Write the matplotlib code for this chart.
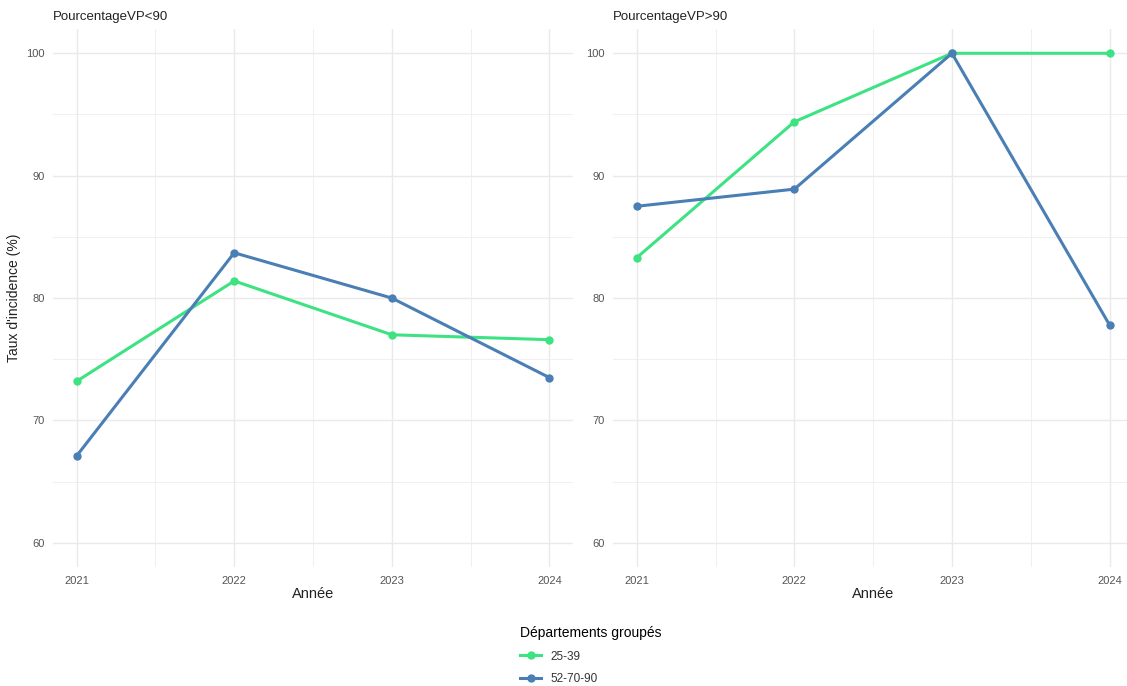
import matplotlib
matplotlib.use("Agg")
import matplotlib.pyplot as plt
from matplotlib.lines import Line2D

plt.rcParams['font.family'] = ['Liberation Sans', 'DejaVu Sans']

# données
annees = [2021, 2022, 2023, 2024]
groupes = ['25-39', '52-70-90']
panneaux = ['PourcentageVP<90', 'PourcentageVP>90']

taux_inf90_25_39 = [73.2, 81.4, 77.0, 76.6]
taux_inf90_52_70_90 = [67.1, 83.7, 80.0, 73.5]
taux_sup90_25_39 = [83.3, 94.4, 100.0, 100.0]
taux_sup90_52_70_90 = [87.5, 88.9, 100.0, 77.8]

couleurs = {'25-39': '#3DE283', '52-70-90': '#4A7FB5'}

series = {
    'PourcentageVP<90': {'25-39': taux_inf90_25_39, '52-70-90': taux_inf90_52_70_90},
    'PourcentageVP>90': {'25-39': taux_sup90_25_39, '52-70-90': taux_sup90_52_70_90},
}

fig = plt.figure(figsize=(11.27, 6.86), dpi=100)
positions = [[0.047, 0.173, 0.4615, 0.785], [0.544, 0.173, 0.4615, 0.785]]

for pos, nom in zip(positions, panneaux):
    ax = fig.add_axes(pos)
    ax.set_xlim(2020.85, 2024.15)
    ax.set_ylim(58, 102)
    # grille façon theme_minimal
    for x in [2021.5, 2022.5, 2023.5]:
        ax.axvline(x, color='#EEEEEE', lw=0.6, zorder=0)
    for y in [65, 75, 85, 95]:
        ax.axhline(y, color='#EEEEEE', lw=0.6, zorder=0)
    ax.set_xticks(annees)
    ax.set_yticks([60, 70, 80, 90, 100])
    ax.grid(True, color='#EAEAEA', lw=1.0, zorder=0)
    for s in ax.spines.values():
        s.set_visible(False)
    ax.tick_params(length=0, labelsize=8, colors='#555555', pad=6)
    for g in groupes:
        ax.plot(annees, series[nom][g], color=couleurs[g], lw=2.2,
                marker='o', ms=5, zorder=3)
    ax.set_xlabel('Année', fontsize=10.5, color='#222222', labelpad=1)
    ax.text(0, 1.01, nom, transform=ax.transAxes, fontsize=9.5,
            color='#222222', ha='left', va='bottom')
    if nom == panneaux[0]:
        ax.set_ylabel("Taux d'incidence (%)", fontsize=10, color='#222222')

handles = [Line2D([], [], color=couleurs[g], lw=2.2, marker='o', ms=5) for g in groupes]
leg = fig.legend(handles, groupes, loc='upper left', bbox_to_anchor=(0.452, 0.103),
                 frameon=False, fontsize=8.5, title='Départements groupés',
                 title_fontsize=10, handlelength=1.8, labelspacing=0.9,
                 alignment='left')
for t in leg.get_texts():
    t.set_color('#333333')

fig.savefig('out.png', dpi=100, facecolor='white')
